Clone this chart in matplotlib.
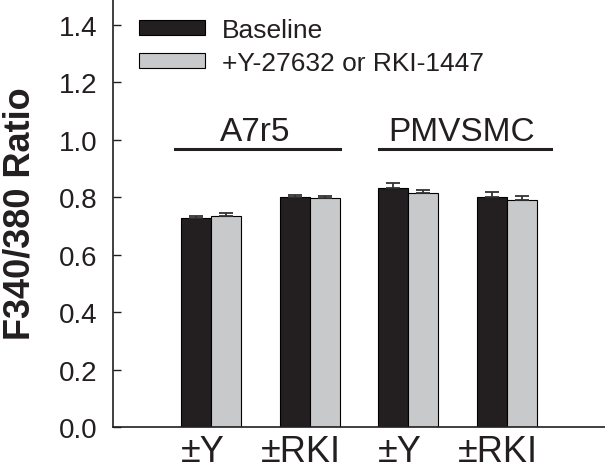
import matplotlib
matplotlib.use("Agg")
import matplotlib.pyplot as plt
import numpy as np

plt.rcParams['font.family'] = ['Liberation Sans', 'DejaVu Sans']

# Data
tick_labels = ["±Y", "±RKI", "±Y", "±RKI"]
series_names = ["Baseline", "+Y-27632 or RKI-1447"]
baseline = [0.727, 0.800, 0.832, 0.802]
baseline_err = [0.006, 0.008, 0.016, 0.017]
treated = [0.734, 0.798, 0.814, 0.791]
treated_err = [0.011, 0.007, 0.012, 0.013]
group_labels = ["A7r5", "PMVSMC"]

ink = "#231f20"
gray = "#c8c9cb"

fig = plt.figure(figsize=(6.05, 4.77), dpi=100)
ax = fig.add_axes([113/605, 1 - 428/477, 492/605, 428/477])

x = np.arange(1, len(baseline) + 1)
w = 0.305
ax.bar(x - w/2, baseline, width=w, color=ink, edgecolor="black", linewidth=0.8,
       label=series_names[0])
ax.bar(x + w/2, treated, width=w, color=gray, edgecolor="black", linewidth=0.8,
       label=series_names[1])
ax.errorbar(x - w/2, baseline, yerr=[np.zeros(len(baseline)), baseline_err],
            fmt="none", ecolor="#333333", elinewidth=1.3, capsize=5, capthick=1.3)
ax.errorbar(x + w/2, treated, yerr=[np.zeros(len(treated)), treated_err],
            fmt="none", ecolor="#333333", elinewidth=1.3, capsize=5, capthick=1.3)

ax.set_xlim(0, 5)
ax.set_ylim(0, 1.49)
ax.set_yticks(np.arange(0, 1.41, 0.2))
ax.set_yticklabels([f"{v:.1f}" for v in np.arange(0, 1.41, 0.2)])
ax.set_xticks(x - 0.09)
ax.set_xticklabels(tick_labels)
ax.tick_params(axis='y', direction='in', length=6, width=1, labelsize=20, pad=11,
               colors=ink)
ax.tick_params(axis='x', length=0, labelsize=26, pad=5, colors=ink)
for s in ["top", "right"]:
    ax.spines[s].set_visible(False)
for s in ["left", "bottom"]:
    ax.spines[s].set_linewidth(1.2)
    ax.spines[s].set_color(ink)

ax.set_ylabel("F340/380 Ratio", fontsize=26, fontweight="bold", color=ink)
ax.yaxis.set_label_coords(-0.154, 0.5)

# group annotations
group_spans = [(0.63, 2.31), (2.70, 4.45)]
for lab, (a, b) in zip(group_labels, group_spans):
    ax.plot([a, b], [0.969, 0.969], color=ink, linewidth=2.2, clip_on=False)
    ax.text((a + b) / 2 - 0.03, 0.976, lab, ha="center", va="bottom", fontsize=24,
            color=ink)

leg = ax.legend(loc="upper left", bbox_to_anchor=(26/492, 1 - 19/428), frameon=False,
                fontsize=19, handlelength=2.5, handleheight=0.48, handletextpad=0.64,
                labelspacing=0.33, borderpad=0, borderaxespad=0)
for t in leg.get_texts():
    t.set_color(ink)

fig.savefig("out.png", dpi=100)
